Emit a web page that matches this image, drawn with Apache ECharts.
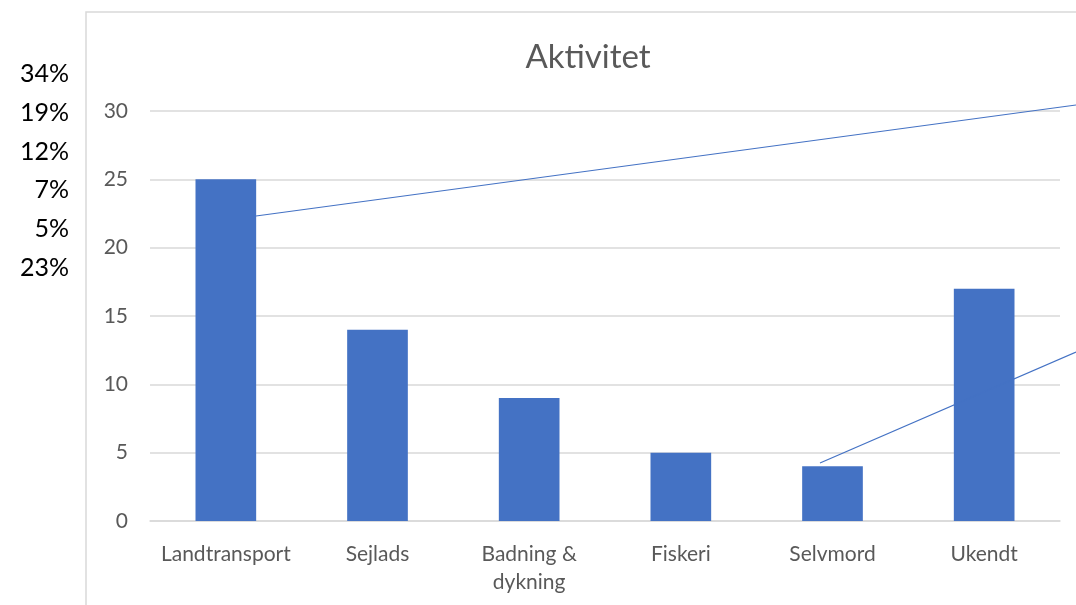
<!DOCTYPE html>
<html><head><meta charset="utf-8">
<script src="https://cdn.jsdelivr.net/npm/echarts@6/dist/echarts.min.js"></script>
<style>html,body{margin:0;padding:0;background:#fff}#c{width:1076px;height:605px}</style>
</head><body><div id="c"></div>
<script>
const categories = ['Landtransport','Sejlads','Badning &\ndykning','Fiskeri','Selvmord','Ukendt'];
const values = [25, 14, 9, 5, 4, 17];
const percentLabels = ['34%','19%','12%','7%','5%','23%'];
const yTicks = {min: 0, max: 30, interval: 5};
const FONT = 'Lato';

const chart = echarts.init(document.getElementById('c'));
const pctGraphics = percentLabels.map((t, i) => ({
  type: 'text', x: 69, y: 74 + i * 38.8,
  style: {text: t, font: '25px ' + FONT, fill: '#000', align: 'right', verticalAlign: 'middle'}
}));
chart.setOption({
  animation: false,
  title: {text: 'Aktivitet', left: 583, top: 36, textAlign: 'center',
    textStyle: {fontFamily: FONT, fontSize: 33, fontWeight: 'normal', color: '#595959'}},
  grid: {left: 150, right: 16, top: 111, bottom: 84},
  xAxis: {type: 'category', data: categories,
    axisLine: {lineStyle: {color: '#d9d9d9', width: 1.5}}, axisTick: {show: false},
    axisLabel: {interval: 0, fontFamily: FONT, fontSize: 21, color: '#595959', margin: 19, lineHeight: 28}},
  yAxis: {type: 'value', min: yTicks.min, max: yTicks.max, interval: yTicks.interval,
    axisLine: {show: false}, axisTick: {show: false},
    splitLine: {lineStyle: {color: '#d9d9d9', width: 1.5}},
    axisLabel: {fontFamily: FONT, fontSize: 21, color: '#595959', margin: 22}},
  series: [{type: 'bar', data: values, barWidth: '40%',
    itemStyle: {color: '#4472C4'}}],
  graphic: [
    {type: 'rect', shape: {x: 86, y: 12, width: 1100, height: 700}, z: -10,
      style: {fill: 'none', stroke: '#d9d9d9', lineWidth: 1.5}},
    {type: 'line', shape: {x1: 256, y1: 216, x2: 1076, y2: 105}, z: 100,
      style: {stroke: '#4472C4', lineWidth: 1.2}},
    {type: 'line', shape: {x1: 820, y1: 463, x2: 1076, y2: 352}, z: 100,
      style: {stroke: '#4472C4', lineWidth: 1.2}},
    ...pctGraphics
  ]
});
</script></body></html>
